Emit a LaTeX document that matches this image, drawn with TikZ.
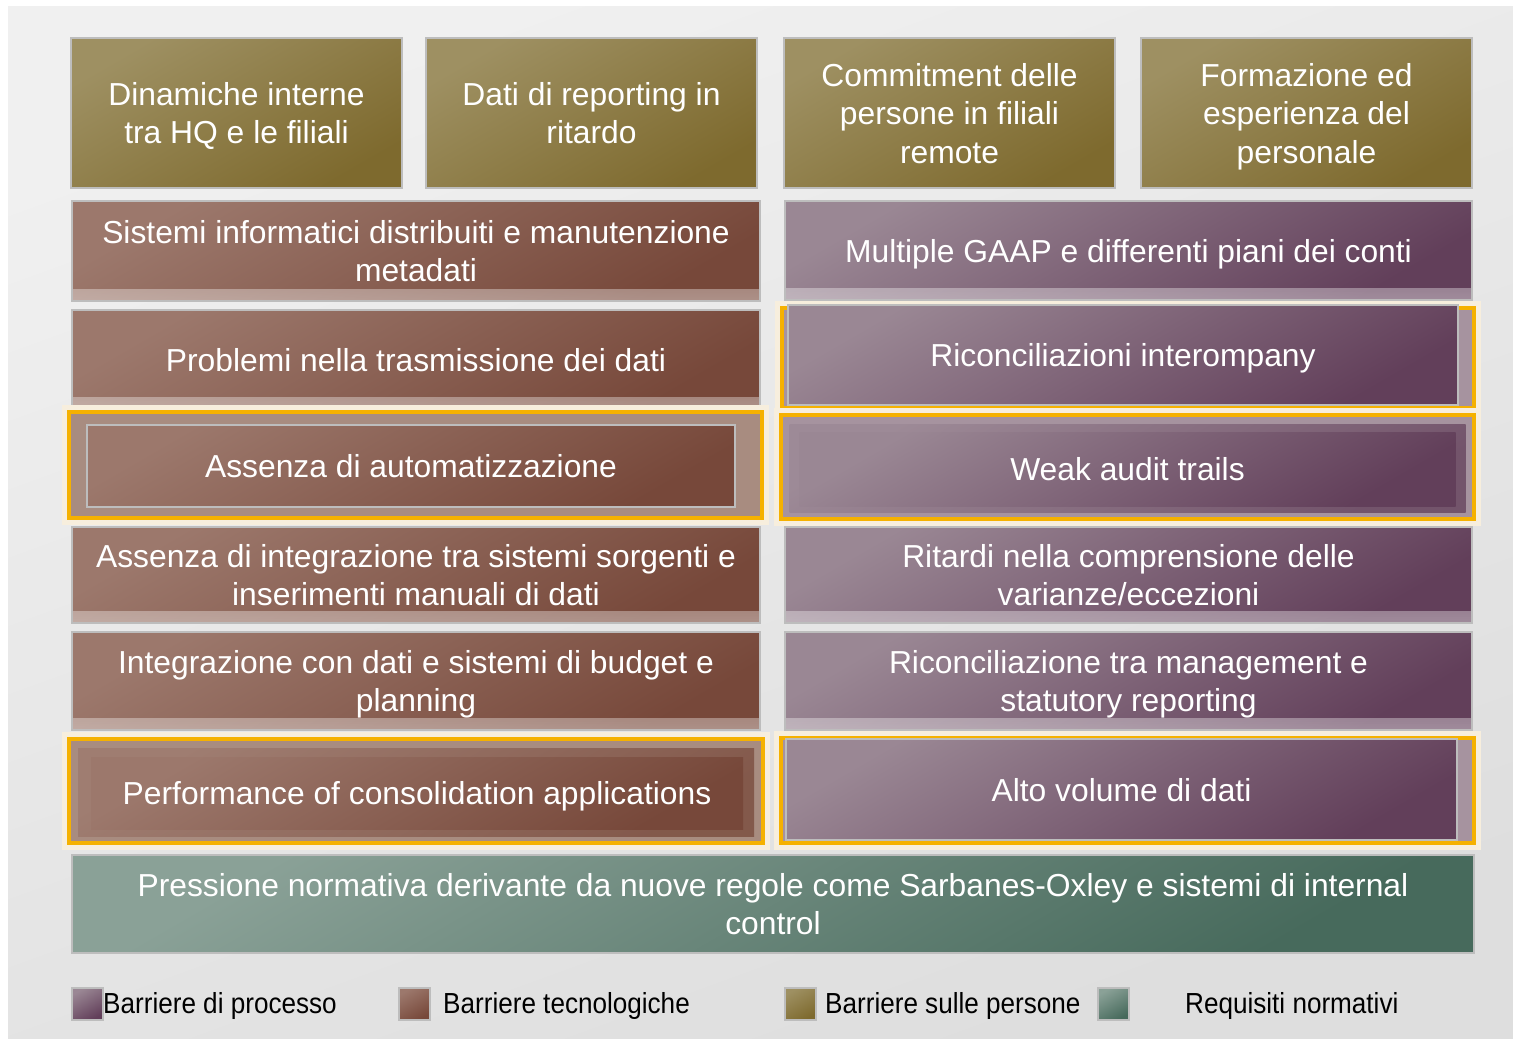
\documentclass[tikz,border=0pt]{standalone}
\usepackage{fontspec}
\setmainfont{Liberation Sans}
\newfontfamily\legfam[FakeStretch=0.9]{Liberation Sans}
\usetikzlibrary{fadings,calc}
\definecolor{olA}{HTML}{9E9062}
\definecolor{olB}{HTML}{7E6A2E}
\definecolor{brA}{HTML}{9C786C}
\definecolor{brB}{HTML}{77483A}
\definecolor{puA}{HTML}{9A8794}
\definecolor{puB}{HTML}{623F5A}
\definecolor{grA}{HTML}{8AA197}
\definecolor{grB}{HTML}{476A5C}
\definecolor{bgA}{HTML}{F0F0F0}
\definecolor{bgB}{HTML}{DEDEDE}
\definecolor{hlOr}{HTML}{F5B100}
\definecolor{glow}{HTML}{F7EEDD}
\definecolor{brTex}{HTML}{A88C80}
\definecolor{puTex}{HTML}{A6939F}
\definecolor{edge}{HTML}{BDBDBD}
\newcommand{\boxfont}{\fontsize{31.8}{38.5}\selectfont}
\newcommand{\legfont}{\legfam\fontsize{29}{32}\selectfont}
\newcommand{\topstrut}{\rule{0pt}{30pt}}
\newcommand{\botstrut}{\rule[-7pt]{0pt}{7pt}}
\newcommand{\bx}[1]{\topstrut#1\botstrut}
\tikzset{
  basebox/.style={rectangle, inner sep=0pt, align=center, text=white, font=\boxfont, draw=edge, line width=1.5pt},
  olivebox/.style={basebox, top color=olA, bottom color=olB, shading angle=30},
  brownbox/.style={basebox, top color=brA, bottom color=brB, shading angle=30},
  purplebox/.style={basebox, top color=puA, bottom color=puB, shading angle=30},
  greenbox/.style={basebox, top color=grA, bottom color=grB, shading angle=30},
  fadebottom/.style={path picture={\fill[white, opacity=0.4, path fading=north]
      ($(path picture bounding box.south west)+(0,-12)$) rectangle (path picture bounding box.south east);}},
  hlframe/.style={rectangle, inner sep=0pt, draw=hlOr, line width=3.5pt,
      preaction={draw=glow, line width=14pt}},
  softbox/.style={rectangle, inner sep=0pt, align=center, text=white, font=\boxfont},
  legsq/.style={rectangle, inner sep=0pt, draw=edge, line width=1.5pt, minimum width=31pt, minimum height=32pt},
  legtext/.style={anchor=base west, inner sep=0pt, font=\legfont, text=black}
}
\begin{document}
\begin{tikzpicture}[x=1pt, y={(0pt,-1pt)}]
\useasboundingbox (0,0) rectangle (1513,1039);
\fill[white] (0,0) rectangle (1513,1039);
\shade[top color=bgA, bottom color=bgB, shading angle=20] (8,6) rectangle (1513,1039);

% row 1: olive
\node[olivebox, minimum width=331pt, minimum height=150pt] (o1) at (236.5,113) {\bx{Dinamiche interne\\tra HQ e le filiali}};
\node[olivebox, minimum width=331pt, minimum height=150pt] (o2) at (591.5,113) {\bx{Dati di reporting in\\ritardo}};
\node[olivebox, minimum width=331pt, minimum height=150pt] (o3) at (949.5,113) {\bx{Commitment delle\\persone in filiali\\remote}};
\node[olivebox, minimum width=331pt, minimum height=150pt] (o4) at (1306.5,113) {\bx{Formazione ed\\esperienza del\\personale}};

% row 2
\node[brownbox, fadebottom, minimum width=688pt, minimum height=100pt] (t1) at (416,251) {\bx{Sistemi informatici distribuiti e manutenzione\\metadati}};
\node[purplebox, fadebottom, minimum width=687pt, minimum height=99pt] (p1) at (1128.5,250.5) {\bx{Multiple GAAP e differenti piani dei conti}};

% row 3
\node[brownbox, fadebottom, minimum width=688pt, minimum height=99pt] (t2) at (416,359.5) {\bx{Problemi nella trasmissione dei dati}};
\node[hlframe, fill=puTex, minimum width=692pt, minimum height=100pt] (fr1) at (1128,358) {};
\node[purplebox, minimum width=670pt, minimum height=100pt] (p2) at (1123,355) {\bx{Riconciliazioni interompany}};

% row 4
\node[hlframe, fill=brTex, minimum width=693pt, minimum height=106pt] (fr2) at (415.5,465) {};
\node[brownbox, minimum width=648pt, minimum height=82pt] (t3) at (411,466) {\bx{Assenza di automatizzazione}};
\node[hlframe, fill=puTex, minimum width=693pt, minimum height=104pt] (fr3) at (1127.5,467) {};
\node[rectangle, inner sep=0pt, top color=puA!75!puTex, bottom color=puB!75!puTex, shading angle=30, minimum width=676pt, minimum height=88pt] (p3s) at (1127.5,468) {};
\node[softbox, top color=puA, bottom color=puB, shading angle=30, minimum width=656pt, minimum height=74pt] (p3) at (1127.5,469) {\bx{Weak audit trails}};

% row 5
\node[brownbox, fadebottom, minimum width=688pt, minimum height=96pt] (t4) at (416,575) {\bx{Assenza di integrazione tra sistemi sorgenti e\\inserimenti manuali di dati}};
\node[purplebox, fadebottom, minimum width=687pt, minimum height=96pt] (p4) at (1128.5,575) {\bx{Ritardi nella comprensione delle\\varianze/eccezioni}};

% row 6
\node[brownbox, fadebottom, minimum width=688pt, minimum height=98pt] (t5) at (416,681) {\bx{Integrazione con dati e sistemi di budget e\\planning}};
\node[purplebox, fadebottom, minimum width=687pt, minimum height=98pt] (p5) at (1128.5,681) {\bx{Riconciliazione tra management e\\statutory reporting}};

% row 7
\node[hlframe, fill=brTex, minimum width=694pt, minimum height=104pt] (fr4) at (416,791) {};
\node[rectangle, inner sep=0pt, top color=brA!75!brTex, bottom color=brB!75!brTex, shading angle=30, minimum width=676pt, minimum height=88pt] (t6s) at (416,792) {};
\node[softbox, top color=brA, bottom color=brB, shading angle=30, minimum width=652pt, minimum height=72pt] (t6) at (417,793) {\bx{Performance of consolidation applications}};
\node[hlframe, fill=puTex, minimum width=693pt, minimum height=105pt] (fr5) at (1127.5,790.5) {};
\node[purplebox, minimum width=671pt, minimum height=101pt] (p6) at (1121.5,789.5) {\bx{Alto volume di dati}};

% row 8
\node[greenbox, minimum width=1402pt, minimum height=98pt] (g1) at (773,904) {\bx{Pressione normativa derivante da nuove regole come Sarbanes-Oxley e sistemi di internal\\control}};

% legend
\node[legsq, top color=puA, bottom color=puB, shading angle=30] (l1) at (87.5,1004) {};
\node[legtext] (lt1) at (103,1013) {Barriere di processo};
\node[legsq, top color=brA, bottom color=brB, shading angle=30] (l2) at (414.5,1004) {};
\node[legtext] (lt2) at (443,1013) {Barriere tecnologiche};
\node[legsq, top color=olA, bottom color=olB, shading angle=30] (l3) at (800.5,1004) {};
\node[legtext] (lt3) at (825,1013) {Barriere sulle persone};
\node[legsq, top color=grA, bottom color=grB, shading angle=30] (l4) at (1113.5,1004) {};
\node[legtext] (lt4) at (1185,1013) {Requisiti normativi};
\end{tikzpicture}
\end{document}
